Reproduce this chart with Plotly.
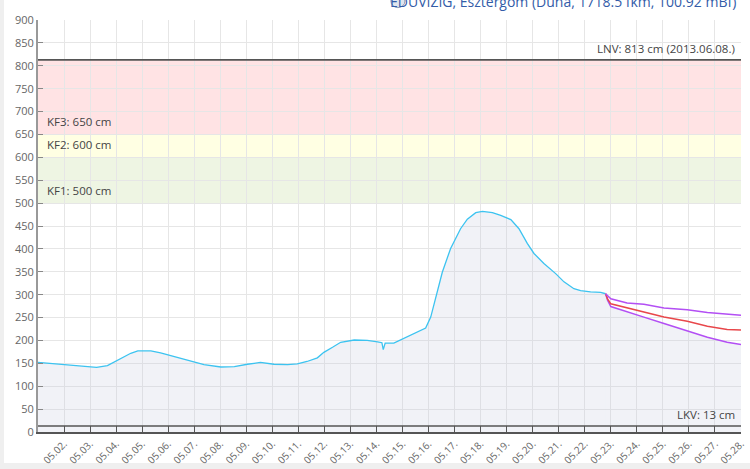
import plotly.graph_objects as go
import pandas as pd

# Observed water level (cm)
obs_time = [
    "2025-05-01 00:00", "2025-05-02 00:00", "2025-05-03 00:00", "2025-05-03 06:00",
    "2025-05-03 16:00", "2025-05-04 01:00", "2025-05-04 13:30", "2025-05-04 20:00",
    "2025-05-05 08:00", "2025-05-05 17:00", "2025-05-06 05:00", "2025-05-06 18:00",
    "2025-05-07 09:00", "2025-05-08 00:30", "2025-05-08 13:00", "2025-05-09 01:00",
    "2025-05-09 13:00", "2025-05-10 01:30", "2025-05-10 14:00", "2025-05-10 23:00",
    "2025-05-11 08:00", "2025-05-11 17:30", "2025-05-11 23:30", "2025-05-12 07:30",
    "2025-05-12 15:00", "2025-05-13 03:30", "2025-05-13 15:30", "2025-05-14 01:00",
    "2025-05-14 05:00", "2025-05-14 06:15", "2025-05-14 08:00", "2025-05-14 16:00",
    "2025-05-15 07:30", "2025-05-15 21:20", "2025-05-16 02:00", "2025-05-16 06:30",
    "2025-05-16 12:40", "2025-05-16 20:20", "2025-05-17 05:30", "2025-05-17 11:45",
    "2025-05-17 19:30", "2025-05-18 01:40", "2025-05-18 10:50", "2025-05-18 18:30",
    "2025-05-19 03:50", "2025-05-19 11:20", "2025-05-19 19:00", "2025-05-20 01:10",
    "2025-05-20 10:20", "2025-05-20 21:10", "2025-05-21 04:50", "2025-05-21 14:00",
    "2025-05-21 20:10", "2025-05-22 05:20", "2025-05-22 14:40", "2025-05-22 19:12",
]
obs_level = [
    152, 147, 143, 141,
    145, 156, 172, 177,
    177, 173, 165, 156,
    147, 142, 143, 148,
    152, 148, 147, 149,
    154, 162, 174, 185,
    196, 201, 200, 197,
    195, 180, 194, 194,
    212, 227, 251, 295,
    349, 401, 444, 465,
    479, 482, 479, 473,
    464, 444, 412, 390,
    368, 346, 328, 313,
    309, 306, 305, 302,
]

# Forecast (cm)
fc_time = [
    "2025-05-22 19:12", "2025-05-22 21:00", "2025-05-23 00:00", "2025-05-23 15:00",
    "2025-05-24 06:30", "2025-05-25 01:00", "2025-05-25 22:30", "2025-05-26 17:00",
    "2025-05-27 11:15", "2025-05-28 00:00",
]
fc_upper = [302, 298, 291, 282, 279, 271, 267, 261, 258, 255]
fc_mid = [302, 291, 280, 271, 261, 251, 242, 231, 224, 223]
fc_lower = [302, 288, 274, 262, 251, 237, 220, 207, 196, 191]

# Reference levels (cm)
kf1, kf2, kf3 = 500, 600, 650
lnv, lkv = 813, 13
lnv_date = "2013.06.08."

tick_days = pd.date_range("2025-05-02", "2025-05-28", freq="D")

FONT = "Open Sans, Noto Sans, sans-serif"
BLUE = "#3cc3f0"
PURPLE = "#b34ff4"
RED = "#e8474b"
FILL = "rgba(200,205,225,0.25)"


def create_chart() -> go.Figure:
    fig = go.Figure()

    fig.add_trace(go.Scatter(
        x=obs_time, y=obs_level, mode="lines",
        line=dict(color=BLUE, width=1.3),
        fill="tozeroy", fillcolor=FILL,
    ))
    fig.add_trace(go.Scatter(
        x=fc_time, y=fc_lower, mode="lines",
        line=dict(color=PURPLE, width=1.5),
        fill="tozeroy", fillcolor=FILL,
    ))
    fig.add_trace(go.Scatter(
        x=fc_time, y=fc_mid, mode="lines",
        line=dict(color=RED, width=1.5),
    ))
    fig.add_trace(go.Scatter(
        x=fc_time, y=fc_upper, mode="lines",
        line=dict(color=PURPLE, width=1.5),
    ))

    # white page area inside the grey frame
    fig.add_shape(type="rect", xref="paper", yref="paper",
                  x0=-0.0484, x1=1.02, y0=-0.0752, y1=1.1,
                  fillcolor="white", line_width=0, layer="below")

    # warning bands
    bands = [(kf1, kf2, "#eef5e3"), (kf2, kf3, "#ffffe3"), (kf3, lnv, "#ffe3e4")]
    for y0, y1, color in bands:
        fig.add_shape(type="rect", xref="paper", yref="y",
                      x0=0, x1=1, y0=y0, y1=y1,
                      fillcolor=color, line_width=0, layer="below")

    for level in (lnv, lkv):
        fig.add_shape(type="line", xref="paper", yref="y",
                      x0=0, x1=1, y0=level, y1=level,
                      line=dict(color="#555555", width=1.6))

    note_font = dict(family=FONT, size=11.5, color="#444444")
    for level, name in ((kf3, "KF3"), (kf2, "KF2"), (kf1, "KF1")):
        fig.add_annotation(x=0.01, y=level, xref="paper", yref="y",
                           text=f"{name}: {level} cm", showarrow=False,
                           xanchor="left", yanchor="bottom", yshift=3,
                           font=note_font)
    fig.add_annotation(x=0.995, y=lnv, xref="paper", yref="y",
                       text=f"LNV: {lnv} cm ({lnv_date})", showarrow=False,
                       xanchor="right", yanchor="bottom", yshift=2, font=note_font)
    fig.add_annotation(x=0.995, y=lkv, xref="paper", yref="y",
                       text=f"LKV: {lkv} cm", showarrow=False,
                       xanchor="right", yanchor="bottom", yshift=2, font=note_font)

    # station title, cut off at the top of the page
    fig.add_annotation(x=0.996, y=1.044, xref="paper", yref="paper",
                       text="ÉDUVIZIG, Esztergom (Duna, 1718.5 fkm, 100.92 mBf)",
                       showarrow=False, xanchor="right", yanchor="middle",
                       font=dict(family=FONT, size=14, color="#335ca8"))
    fig.add_shape(type="circle", xref="paper", yref="paper",
                  x0=0.502, x1=0.522, y0=1.03, y1=1.062,
                  line=dict(color="#8a9ab8", width=1), fillcolor="#dfe5ef")

    fig.update_layout(
        width=750, height=469,
        margin=dict(l=38, r=9, t=20, b=37),
        paper_bgcolor="#efefef",
        plot_bgcolor="white",
        showlegend=False,
        font=dict(family=FONT, size=11, color="#666666"),
        xaxis=dict(
            type="date",
            range=["2025-05-01 00:00", "2025-05-28 00:00"],
            tickvals=tick_days,
            tickformat="%m.%d.",
            tickangle=-45,
            ticks="inside", ticklen=6, tickcolor="#555555",
            showline=True, linecolor="#555555", linewidth=2,
            gridcolor="#e6e6e6", zeroline=False,
            tickfont=dict(size=10, color="#666666"),
            automargin=False,
        ),
        yaxis=dict(
            range=[0, 900], dtick=50,
            ticks="inside", ticklen=5, tickcolor="#888888",
            showline=True, linecolor="#999999", linewidth=2,
            gridcolor="#e6e6e6", zeroline=False,
            tickfont=dict(size=11, color="#666666"),
            automargin=False,
        ),
    )
    return fig


fig = create_chart()
# drop the default page margin so the figure fills the window
fig.write_html("out.html", config={"displayModeBar": False},
               post_script="document.body.style.margin = '0';")
